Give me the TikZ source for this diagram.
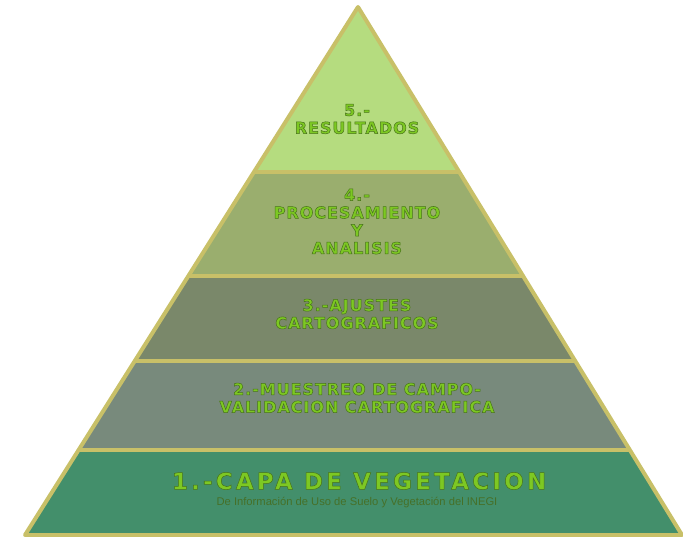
\documentclass[tikz,border=0pt]{standalone}
\usepackage{fontspec}
\usepackage{tikz}
\usetikzlibrary{calc}
\newfontfamily\techfont[LetterSpace=6]{DejaVu Sans}
\newfontfamily\widefont[LetterSpace=14]{DejaVu Sans}
\newfontfamily\subfont{Liberation Sans}
\definecolor{rimcol}{RGB}{200,192,104}
\definecolor{lblcol}{RGB}{125,200,35}
\definecolor{subcol}{RGB}{70,112,40}
\definecolor{colfive}{RGB}{181,220,127}
\definecolor{colfour}{RGB}{154,174,110}
\definecolor{colthree}{RGB}{122,136,106}
\definecolor{coltwo}{RGB}{120,138,124}
\definecolor{colone}{RGB}{67,143,107}
% dark rim round the letters
\newcommand{\rimtext}[1]{\special{pdf:code 2 Tr 0.5 w 0.28 0.45 0.1 RG}#1\special{pdf:code 0 Tr}}
\tikzset{
   rim/.style={draw=rimcol, line width=4pt, line join=round},
   layer/.style={fill=#1},
   lbl/.style={text=lblcol, align=center, inner sep=0pt,
      font=\techfont\bfseries\fontsize{16}{17.8}\selectfont},
   biglbl/.style={lbl, font=\widefont\bfseries\fontsize{23}{25}\selectfont},
   sublbl/.style={text=subcol, inner sep=0pt,
      font=\subfont\fontsize{11.2}{12}\selectfont},
    }
\begin{document}
\begin{tikzpicture}[x=1pt,y=-1pt]
            \useasboundingbox (0,0) rectangle (683,537);
            \coordinate (apex) at (358,7);
            \coordinate (bl) at (25,535);
            \coordinate (br) at (682,535);
            % cuts between the layers
            \foreach \n/\t in {a/0.3125,b/0.5095,c/0.6705,d/0.839}{
                \coordinate (l\n) at ($(apex)!\t!(bl)$);
                \coordinate (r\n) at ($(apex)!\t!(br)$);
            }
            \fill[layer=colfive](apex) -- (ra) -- (la) -- cycle;
            \fill[layer=colfour](la) -- (ra) -- (rb) -- (lb) -- cycle;
            \fill[layer=colthree](lb) -- (rb) -- (rc) -- (lc) -- cycle;
            \fill[layer=coltwo](lc) -- (rc) -- (rd) -- (ld) -- cycle;
            \fill[layer=colone](ld) -- (rd) -- (br) -- (bl) -- cycle;
            \draw[rim](apex) -- (br) -- (bl) -- cycle;
            \foreach \n in {a,b,c,d} \draw[rim](l\n) to (r\n);
            \node[lbl] (res) at (357,119) {\rimtext{5.-}\\\rimtext{RESULTADOS}};
            \node[lbl] (proc) at (357,221.5) {\rimtext{4.-}\\\rimtext{PROCESAMIENTO}\\\rimtext{Y}\\\rimtext{ANALISIS}};
            \node[lbl] (ajus) at (357,314) {\rimtext{3.-AJUSTES}\\\rimtext{CARTOGRAFICOS}};
            \node[lbl] (mues) at (357,398) {\rimtext{2.-MUESTREO DE CAMPO-}\\\rimtext{VALIDACION CARTOGRAFICA}};
            \node[biglbl] (capa) at (359,481) {\rimtext{1.-CAPA DE VEGETACION}};
            \node[sublbl] (inegi) at (357,502.5) {De Información de Uso de Suelo y Vegetación del INEGI};
        \end{tikzpicture}
\end{document}
